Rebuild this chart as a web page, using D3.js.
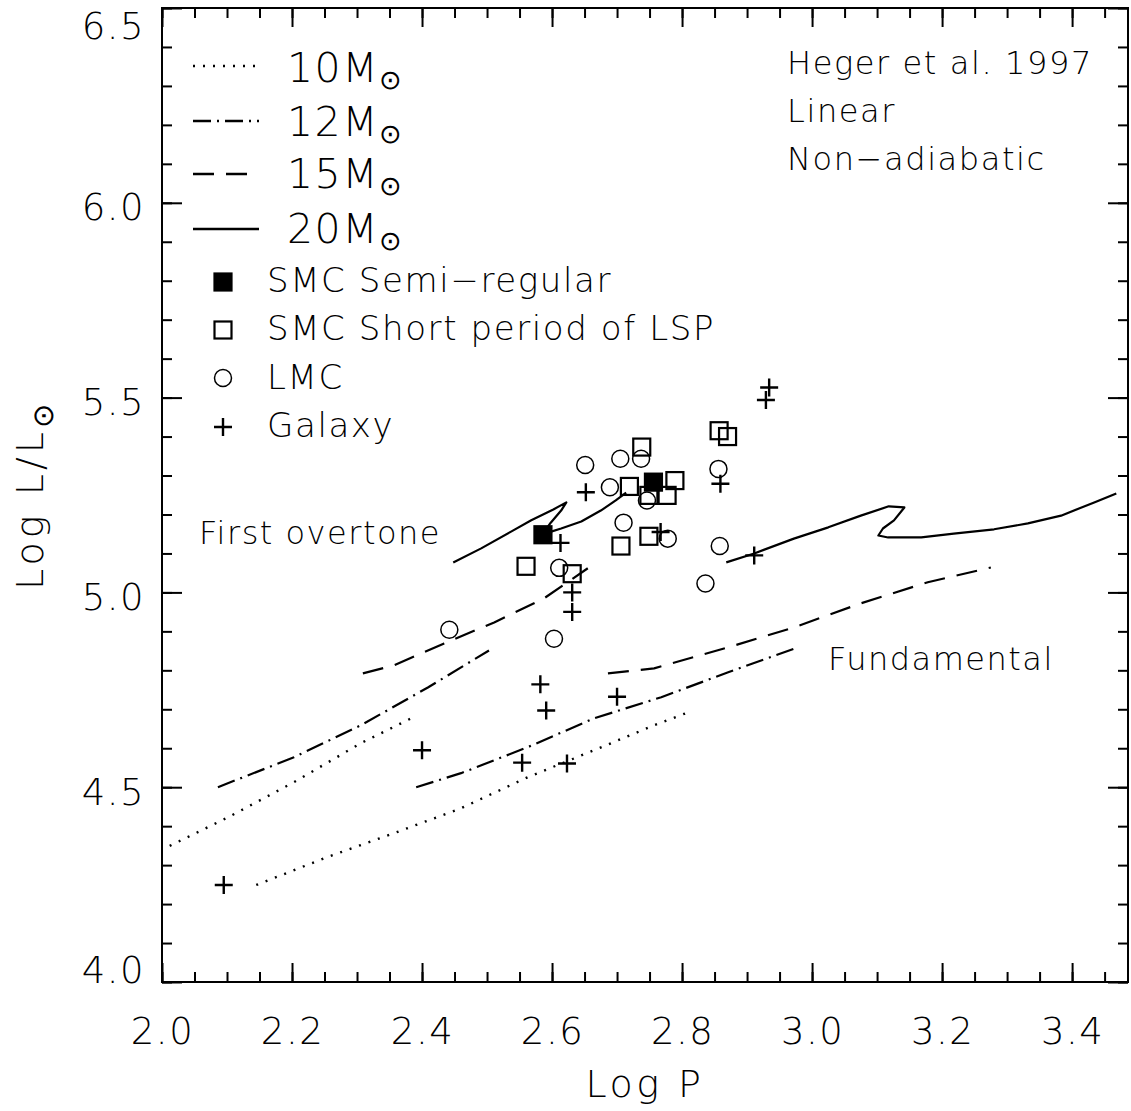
<!DOCTYPE html>
<html>
<head>
<meta charset="utf-8">
<script src="https://cdn.jsdelivr.net/npm/d3@7"></script>
<style>
  html, body { margin: 0; padding: 0; background: #fff; }
  svg text { font-family: "DejaVu Sans", "Liberation Sans", sans-serif; font-weight: 200; fill: #000; }
</style>
</head>
<body>
<svg id="chart" width="1131" height="1111"></svg>
<script>
// ---------------- data ----------------
const xTicks = [2.0, 2.2, 2.4, 2.6, 2.8, 3.0, 3.2, 3.4];
const yTicks = [4.0, 4.5, 5.0, 5.5, 6.0, 6.5];
const xMinorTicks = d3.range(2.0, 3.4876, 0.05);
const yMinorTicks = d3.range(4.0, 6.5001, 0.1);

// 10 Msun (dotted)
const m10First = [[1.998,4.338],[2.102,4.423],[2.203,4.513],[2.306,4.613],[2.386,4.679]];
const m10Fund  = [[2.145,4.249],[2.255,4.321],[2.357,4.382],[2.460,4.446],[2.563,4.526],[2.665,4.595],[2.757,4.659],[2.806,4.690]];
// 12 Msun (dash-dot)
const m12First = [[2.086,4.500],[2.203,4.577],[2.306,4.659],[2.409,4.756],[2.503,4.851]];
const m12Fund  = [[2.391,4.500],[2.460,4.536],[2.563,4.603],[2.665,4.677],[2.768,4.731],[2.871,4.795],[2.978,4.859]];
// 15 Msun (dashed)
const m15First = [[2.309,4.792],[2.357,4.813],[2.434,4.869],[2.511,4.923],[2.588,4.985],[2.655,5.062]];
const m15Fund  = [[2.686,4.792],[2.757,4.805],[2.871,4.859],[2.972,4.910],[3.075,4.972],[3.178,5.026],[3.275,5.064]];
// 20 Msun (solid)
const m20First = [[2.448,5.077],[2.491,5.113],[2.537,5.156],[2.568,5.185],[2.602,5.213],[2.622,5.231],[2.614,5.210],
                  [2.598,5.179],[2.586,5.151],[2.595,5.154],[2.614,5.164],[2.645,5.182],[2.675,5.210],[2.698,5.236],[2.714,5.256]];
const m20Fund  = [[2.868,5.077],[2.911,5.100],[2.972,5.138],[3.025,5.167],[3.075,5.197],[3.118,5.221],[3.142,5.218],
                  [3.126,5.185],[3.109,5.164],[3.102,5.146],[3.117,5.141],[3.168,5.141],[3.218,5.151],[3.280,5.162],
                  [3.332,5.177],[3.383,5.197],[3.434,5.231],[3.468,5.254]];

// observations
const smcSemiRegular = [[2.586,5.148],[2.756,5.283]];
const smcShortLSP = [[2.738,5.373],[2.719,5.272],[2.749,5.249],[2.789,5.287],[2.777,5.249],[2.560,5.067],
                     [2.631,5.048],[2.706,5.119],[2.749,5.144],[2.857,5.415],[2.870,5.400]];
const lmc = [[2.651,5.327],[2.705,5.343],[2.737,5.343],[2.689,5.270],[2.746,5.236],[2.710,5.179],[2.778,5.138],
             [2.611,5.063],[2.442,4.904],[2.603,4.881],[2.856,5.317],[2.858,5.119],[2.836,5.023]];
const galaxy = [[2.652,5.257],[2.613,5.127],[2.631,5.000],[2.631,4.950],[2.767,5.155],[2.859,5.279],[2.934,5.526],
                [2.929,5.494],[2.911,5.095],[2.582,4.764],[2.591,4.697],[2.700,4.732],[2.400,4.595],[2.554,4.563],
                [2.623,4.561],[2.095,4.249]];

const massLabels = ["10M", "12M", "15M", "20M"];
const obsLabels = ["SMC Semi\u2212regular", "SMC Short period of LSP", "LMC", "Galaxy"];
const noteLines = ["Heger et al. 1997", "Linear", "Non\u2212adiabatic"];

// ---------------- chart ----------------
const svg = d3.select("#chart");
const L = 162, R = 1128, T = 8, B = 982;
const x = d3.scaleLinear().domain([2.0, 3.486]).range([L, R]);
const y = d3.scaleLinear().domain([4.0, 6.5]).range([B, T]);

const styles = {
  dotted:  "2,8",
  dashdot: "18,6,2,6",
  dashed:  "21,12",
  solid:   null
};

svg.append("defs").append("clipPath").attr("id", "plotclip")
  .append("rect").attr("x", L).attr("y", T).attr("width", R - L).attr("height", B - T);

// axes (inward ticks)
const fmt = d => d.toFixed(1);
const gxB = svg.append("g").attr("transform", `translate(0,${B})`)
  .call(d3.axisBottom(x).tickValues(xMinorTicks).tickSizeInner(-10).tickSizeOuter(0).tickFormat(""));
const gxB2 = svg.append("g").attr("transform", `translate(0,${B})`)
  .call(d3.axisBottom(x).tickValues(xTicks).tickSizeInner(-19).tickSizeOuter(0).tickPadding(36).tickFormat(fmt));
const gxT = svg.append("g").attr("transform", `translate(0,${T})`)
  .call(d3.axisTop(x).tickValues(xMinorTicks).tickSizeInner(-10).tickSizeOuter(0).tickFormat(""));
const gxT2 = svg.append("g").attr("transform", `translate(0,${T})`)
  .call(d3.axisTop(x).tickValues(xTicks).tickSizeInner(-19).tickSizeOuter(0).tickFormat(""));
const gyL = svg.append("g").attr("transform", `translate(${L},0)`)
  .call(d3.axisLeft(y).tickValues(yMinorTicks).tickSizeInner(-10).tickSizeOuter(0).tickFormat(""));
const gyL2 = svg.append("g").attr("transform", `translate(${L},0)`)
  .call(d3.axisLeft(y).tickValues(yTicks).tickSizeInner(-20).tickSizeOuter(0).tickPadding(17).tickFormat(fmt));
const gyR = svg.append("g").attr("transform", `translate(${R},0)`)
  .call(d3.axisRight(y).tickValues(yMinorTicks).tickSizeInner(-10).tickSizeOuter(0).tickFormat(""));
const gyR2 = svg.append("g").attr("transform", `translate(${R},0)`)
  .call(d3.axisRight(y).tickValues(yTicks).tickSizeInner(-20).tickSizeOuter(0).tickFormat(""));

svg.selectAll(".domain").remove();
svg.selectAll(".tick line").attr("stroke", "#000").attr("stroke-width", 2);

[gxB2, gyL2].forEach(g => g.selectAll(".tick text")
  .attr("font-size", 37).attr("letter-spacing", 1.5)
  .attr("font-family", "DejaVu Sans").attr("fill", "#000"));
gxB2.selectAll(".tick text").attr("dy", "0.71em");
// y labels: vertical centre slightly below tick, first/last pulled inward
gyL2.selectAll(".tick text").attr("dy", d => d === 6.5 ? 30 : (d === 4.0 ? 0 : 17));

// frame
svg.append("rect").attr("x", L).attr("y", T).attr("width", R - L).attr("height", B - T)
  .attr("fill", "none").attr("stroke", "#000").attr("stroke-width", 2);

// curves
const line = d3.line().x(d => x(d[0])).y(d => y(d[1]));
const plot = svg.append("g").attr("clip-path", "url(#plotclip)");
const curves = [
  [m10First, "dotted"], [m10Fund, "dotted"],
  [m12First, "dashdot"], [m12Fund, "dashdot"],
  [m15First, "dashed"], [m15Fund, "dashed"],
  [m20First, "solid"], [m20Fund, "solid"]
];
curves.forEach(([data, st]) => {
  plot.append("path").datum(data).attr("d", line)
    .attr("fill", "none").attr("stroke", "#000")
    .attr("stroke-width", st === "dotted" ? 2.4 : 2.2)
    .attr("stroke-linejoin", "round")
    .attr("stroke-dasharray", styles[st]);
});

// markers
const S = 17;
function drawSquare(g, cx, cy, filled) {
  g.append("rect").attr("x", cx - S / 2).attr("y", cy - S / 2).attr("width", S).attr("height", S)
    .attr("fill", filled ? "#000" : "none").attr("stroke", "#000").attr("stroke-width", 2.2);
}
function drawCircle(g, cx, cy) {
  g.append("circle").attr("cx", cx).attr("cy", cy).attr("r", 8.5)
    .attr("fill", "none").attr("stroke", "#000").attr("stroke-width", 1.5);
}
function drawPlus(g, cx, cy) {
  g.append("path").attr("d", `M${cx - 9},${cy}H${cx + 9}M${cx},${cy - 9}V${cy + 9}`)
    .attr("stroke", "#000").attr("stroke-width", 2.4).attr("fill", "none");
}
const marks = svg.append("g");
lmc.forEach(d => drawCircle(marks, x(d[0]), y(d[1])));
galaxy.forEach(d => drawPlus(marks, x(d[0]), y(d[1])));
smcShortLSP.forEach(d => drawSquare(marks, x(d[0]), y(d[1]), false));
smcSemiRegular.forEach(d => drawSquare(marks, x(d[0]), y(d[1]), true));

// legend: mass tracks
const legStyles = ["dotted", "dashdot", "dashed", "solid"];
const legLineY = [66, 121, 174, 229];
const legTextY = [82, 136, 188, 243];
massLabels.forEach((lab, i) => {
  svg.append("line").attr("x1", 193).attr("x2", 259).attr("y1", legLineY[i]).attr("y2", legLineY[i])
    .attr("stroke", "#000").attr("stroke-width", 2.4).attr("stroke-dasharray", styles[legStyles[i]]);
  const t = svg.append("text").attr("x", 287).attr("y", legTextY[i])
    .attr("font-size", 41).attr("letter-spacing", 1.5).text(lab);
  t.append("tspan").attr("font-size", 27).attr("dy", 7).attr("dx", 0).text("\u2299");
});

// legend: observations
const symY = [282, 330, 378, 427];
const symTextY = [292, 340, 389, 437];
drawSquare(svg, 223, symY[0], true);
drawSquare(svg, 223, symY[1], false);
drawCircle(svg, 223, symY[2]);
drawPlus(svg, 223, symY[3]);
obsLabels.forEach((lab, i) => {
  svg.append("text").attr("x", 267).attr("y", symTextY[i])
    .attr("font-size", 34).attr("letter-spacing", 1.6).text(lab);
});

// note text top right
const noteY = [74, 122, 170];
noteLines.forEach((lab, i) => {
  svg.append("text").attr("x", 787).attr("y", noteY[i])
    .attr("font-size", 32).attr("letter-spacing", 1.6).text(lab);
});

// annotations
svg.append("text").attr("x", 199).attr("y", 544).attr("font-size", 32).attr("letter-spacing", 1.5).text("First overtone");
svg.append("text").attr("x", 828).attr("y", 670).attr("font-size", 32).attr("letter-spacing", 1.5).text("Fundamental");

// axis titles
svg.append("text").attr("x", (L + R) / 2).attr("y", 1097).attr("text-anchor", "middle")
  .attr("font-size", 38).attr("letter-spacing", 3.5).text("Log P");
const yt = svg.append("text").attr("transform", `translate(43,${(T + B) / 2}) rotate(-90)`)
  .attr("text-anchor", "middle").attr("font-size", 38).attr("letter-spacing", 4).text("Log L/L");
yt.append("tspan").attr("font-size", 29).attr("dy", 10).text("\u2299");
</script>
</body>
</html>
